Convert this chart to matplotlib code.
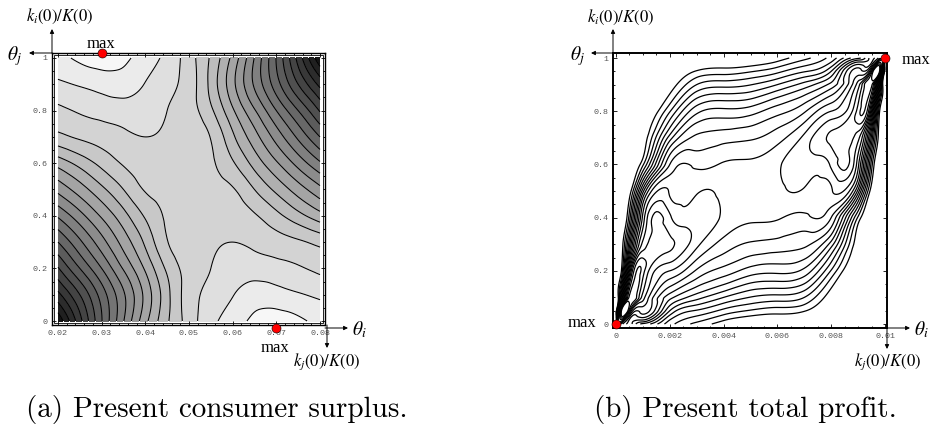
import matplotlib.pyplot as plt
import matplotlib.tri as mtri
import numpy as np
from matplotlib.patches import FancyArrowPatch, Rectangle

plt.rcParams['mathtext.fontset'] = 'stix'

W, H = 931, 428

# (a) present consumer surplus in contour-level units (0 = max)
# rows are written top (y=1) to bottom (y=0)
cs_x = [0.02, 0.025, 0.03, 0.035, 0.04, 0.045, 0.05, 0.055, 0.06, 0.065, 0.07, 0.075, 0.08]
cs_y = [0.0, 0.1, 0.2, 0.3, 0.4, 0.5, 0.6, 0.7, 0.8, 0.9, 1.0]
cs_rows = [
    [-1.3, -0.8, -0.5, -0.8, -1.45, -2.3, -3.55, -5.15, -7.3, -10.05, -13.05, -16.35, -19.8],
    [-2.2, -1.9, -1.6, -1.5, -2.05, -2.7, -3.5, -5.3, -7.7, -10.15, -12.55, -15.0, -17.3],
    [-3.2, -2.9, -2.65, -2.45, -2.5, -3.0, -3.6, -4.8, -6.85, -8.9, -11.0, -13.0, -15.1],
    [-4.3, -3.85, -3.55, -3.22, -3.0, -3.15, -3.4, -4.05, -5.8, -7.6, -9.4, -11.2, -13.0],
    [-6.6, -5.65, -4.7, -3.9, -3.45, -3.35, -3.5, -3.85, -4.87, -6.37, -7.86, -9.37, -10.85],
    [-8.7, -7.5, -6.25, -5.0, -3.92, -3.65, -3.5, -3.65, -3.92, -5.0, -6.25, -7.5, -8.7],
    [-10.85, -9.37, -7.86, -6.37, -4.87, -3.85, -3.5, -3.35, -3.45, -3.9, -4.7, -5.65, -6.6],
    [-13.0, -11.2, -9.4, -7.6, -5.8, -4.05, -3.4, -3.15, -3.0, -3.22, -3.55, -3.85, -4.3],
    [-15.1, -13.0, -11.0, -8.9, -6.85, -4.8, -3.6, -3.0, -2.5, -2.45, -2.65, -2.9, -3.2],
    [-17.3, -15.0, -12.55, -10.15, -7.7, -5.3, -3.5, -2.7, -2.05, -1.5, -1.6, -1.9, -2.2],
    [-19.8, -16.35, -13.05, -10.05, -7.3, -5.15, -3.55, -2.3, -1.45, -0.8, -0.5, -0.8, -1.3],
]
cs_levels = [-40] + list(range(-19, 0)) + [10]

# (b) present total profit, level units (below 1 = blank area), finer near the edges
tp_x = [0.0, 0.0002, 0.0005, 0.001, 0.002, 0.003, 0.004, 0.005,
        0.006, 0.007, 0.008, 0.009, 0.0095, 0.0098, 0.01]
tp_y = [0.0, 0.05, 0.1, 0.2, 0.3, 0.4, 0.5, 0.6, 0.7, 0.8, 0.9, 0.95, 1.0]
tp_rows = [
    [-2, -2, -2, -2, -1.5, -1, -0.5, -0.5, 0.4, 1.7, 3.4, 6.7, 9.65, 12, 19],
    [-2, -2, -2, -1.5, -0.5, 1.1, 1.5, 1.9, 2.7, 3.9, 6.0, 11.5, 15, 16.8, -1],
    [-2, -2, -2, -1.5, 0.3, 3.0, 3.6, 3.95, 5.0, 6.4, 8.35, 13.5, 16.3, 6.3, -1.5],
    [-2, -2, -2, -1, 2.9, 6.7, 7.3, 7.55, 8.6, 9.85, 12.0, 15.5, 11, 1.0, -2],
    [-2, -2, -1.5, 0.2, 6.5, 9.2, 9.6, 9.85, 10.6, 12.3, 14.2, 13.3, 5.7, 0.2, -2],
    [-2, -2, -1, 1.8, 10.0, 10.8, 11.1, 11.2, 11.8, 12.6, 13.2, 11.3, 2.5, -1, -2],
    [-2, -1.5, 0.3, 7.6, 11.9, 11.85, 11.75, 11.6, 11.75, 11.85, 11.9, 7.6, 0.3, -1.5, -2],
    [-2, -1, 2.5, 11.3, 13.2, 12.6, 11.8, 11.2, 11.1, 10.8, 10.0, 1.8, -1, -2, -2],
    [-2, 0.2, 5.7, 13.3, 14.2, 12.3, 10.6, 9.85, 9.6, 9.2, 6.5, 0.2, -1.5, -2, -2],
    [-2, 1.0, 11, 15.5, 12.0, 9.85, 8.6, 7.55, 7.3, 6.7, 2.9, -1, -2, -2, -2],
    [-1.5, 6.3, 16.3, 13.5, 8.35, 6.4, 5.0, 3.95, 3.6, 3.0, 0.3, -1.5, -2, -2, -2],
    [-1, 16.8, 15, 11.5, 6.0, 3.9, 2.7, 1.9, 1.5, 1.1, -0.5, -1.5, -2, -2, -2],
    [19, 12, 9.65, 6.7, 3.4, 1.7, 0.4, -0.5, -0.5, -1, -1.5, -2, -2, -2, -2],
]
tp_levels = list(range(1, 18))


def smooth_grid(xs, ys, rows, subdiv=4):
    xs = np.asarray(xs, dtype=float)
    ys = np.asarray(ys, dtype=float)
    z = np.flipud(np.array(rows, dtype=float)).ravel()
    nx, ny = len(xs), len(ys)
    # unit square, so the cubic interpolator is not skewed by the axis scales
    u, v = np.meshgrid((xs - xs[0]) / (xs[-1] - xs[0]), (ys - ys[0]) / (ys[-1] - ys[0]))
    tris = []
    for j in range(ny - 1):
        for i in range(nx - 1):
            a = j * nx + i
            tris.append([a, a + 1, a + nx + 1])
            tris.append([a, a + nx + 1, a + nx])
    tri = mtri.Triangulation(u.ravel(), v.ravel(), tris)
    fine, zf = mtri.UniformTriRefiner(tri).refine_field(z, subdiv=subdiv)
    fx = xs[0] + fine.x * (xs[-1] - xs[0])
    fy = ys[0] + fine.y * (ys[-1] - ys[0])
    return mtri.Triangulation(fx, fy, fine.triangles), zf


def box(px0, py0, px1, py1):
    return [px0 / W, 1 - py1 / H, (px1 - px0) / W, (py1 - py0) / H]


def fpt(px, py):
    return (px / W, 1 - py / H)


def style_axes(ax, lw):
    for s in ax.spines.values():
        s.set_linewidth(lw)
    ax.tick_params(which='both', direction='in', top=True, right=True,
                   labelcolor='#555555', labelsize=6, width=0.6, color='black')
    ax.tick_params(which='major', length=3, pad=3.5)
    ax.tick_params(which='minor', length=1.6)
    for lab in ax.get_xticklabels() + ax.get_yticklabels():
        lab.set_fontfamily('Liberation Mono')


fig = plt.figure(figsize=(W / 100, H / 100), dpi=100)

# ---- (a) consumer surplus ----
ax1 = fig.add_axes(box(52, 53, 325, 325))
tri1, z1 = smooth_grid(cs_x, cs_y, cs_rows)
nb = len(cs_levels) - 1
shades = [str(round(0.08 + 0.89 * i / (nb - 1), 3)) for i in range(nb)]
ax1.tricontourf(tri1, z1, levels=cs_levels, colors=shades)
ax1.tricontour(tri1, z1, levels=cs_levels[1:-1], colors='k', linewidths=0.75,
               linestyles='solid')
ax1.set_xlim(0.018626, 0.081145)
ax1.set_ylim(-0.0152, 1.019)
ax1.set_xticks([0.02, 0.03, 0.04, 0.05, 0.06, 0.07, 0.08])
ax1.set_xticklabels(['0.02', '0.03', '0.04', '0.05', '0.06', '0.07', '0.08'])
ax1.set_xticks(np.arange(0.02, 0.0801, 0.002), minor=True)
ax1.set_yticks([0, 0.2, 0.4, 0.6, 0.8, 1.0])
ax1.set_yticklabels(['0', '0.2', '0.4', '0.6', '0.8', '1'])
ax1.set_yticks(np.arange(0, 1.001, 0.05), minor=True)
style_axes(ax1, 1.0)
ax1.add_patch(Rectangle((2.3 / 273, 2.3 / 272), 1 - 4.6 / 273, 1 - 4.6 / 272,
                        transform=ax1.transAxes, fill=False, lw=0.6, ec='k'))
ax1.plot([0.03, 0.07], [1.019, -0.0266], 'o', ms=6.5, mfc='red', mec='k', mew=0.4,
         clip_on=False, zorder=10)

# ---- (b) total profit ----
ax2 = fig.add_axes(box(613, 53, 887, 328))
tri2, z2 = smooth_grid(tp_x, tp_y, tp_rows)
ax2.tricontour(tri2, z2, levels=tp_levels, colors='k', linewidths=0.9,
               linestyles='solid')
ax2.set_xlim(-1.115e-4, 0.010074)
ax2.set_ylim(-0.015, 1.0188)
ax2.set_xticks([0, 0.002, 0.004, 0.006, 0.008, 0.01])
ax2.set_xticklabels(['0', '0.002', '0.004', '0.006', '0.008', '0.01'])
ax2.set_xticks(np.arange(0, 0.01001, 0.0005), minor=True)
ax2.set_yticks([0, 0.2, 0.4, 0.6, 0.8, 1.0])
ax2.set_yticklabels(['0', '0.2', '0.4', '0.6', '0.8', '1'])
ax2.set_yticks(np.arange(0, 1.001, 0.05), minor=True)
style_axes(ax2, 1.4)
ax2.plot([0.0, 0.01], [0.0, 1.0], 'o', ms=6.5, mfc='red', mec='k', mew=0.4,
         clip_on=False, zorder=10)

# ---- axis arrows and labels ----
arrows = [((52, 53), (52, 29)), ((52, 53), (29, 53)),
          ((325, 328), (348, 328)), ((327, 325), (327, 348)),
          ((613, 53), (613, 29)), ((613, 53), (591, 53)),
          ((887, 328), (910, 328)), ((887, 328), (887, 349))]
for a, b in arrows:
    fig.add_artist(FancyArrowPatch(fpt(*a), fpt(*b), transform=fig.transFigure,
                                   arrowstyle='-|>', mutation_scale=6, lw=0.7,
                                   color='k', shrinkA=0, shrinkB=0))

ki = r'$k_i(0)/K(0)$'
kj = r'$k_j(0)/K(0)$'
for (px, py), s, fs in [((60, 16), ki, 12), ((621, 17), ki, 12),
                        ((327, 362), kj, 12), ((888, 362), kj, 12),
                        ((15, 56), r'$\theta_j$', 14), ((578, 56), r'$\theta_j$', 14),
                        ((359, 330), r'$\theta_i$', 14), ((921, 330), r'$\theta_i$', 14)]:
    fig.text(*fpt(px, py), s, fontsize=fs, ha='center', va='center')

for px, py in [(101, 44), (275, 348), (916, 60), (582, 323)]:
    fig.text(*fpt(px, py), 'max', fontsize=12, family='Liberation Serif',
             ha='center', va='center')

fig.text(*fpt(217, 410), '(a) Present consumer surplus.', fontsize=21,
         family='cmr10', ha='center', va='center')
fig.text(*fpt(745, 410), '(b) Present total profit.', fontsize=21,
         family='cmr10', ha='center', va='center')

fig.savefig('out.png', dpi=100)
